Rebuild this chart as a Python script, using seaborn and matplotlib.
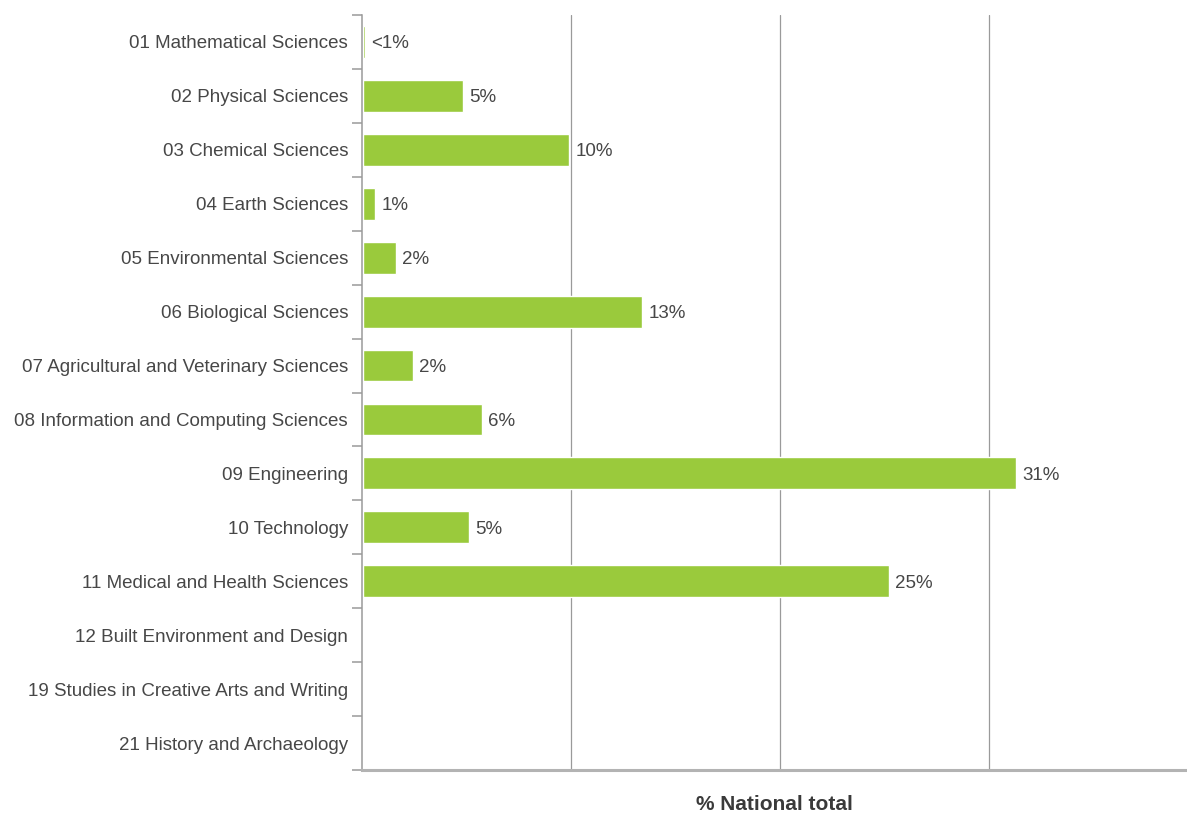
import matplotlib
matplotlib.use("Agg")
import matplotlib.pyplot as plt
import seaborn as sns
import pandas as pd
import numpy as np

categories = [
    "01 Mathematical Sciences",
    "02 Physical Sciences",
    "03 Chemical Sciences",
    "04 Earth Sciences",
    "05 Environmental Sciences",
    "06 Biological Sciences",
    "07 Agricultural and Veterinary Sciences",
    "08 Information and Computing Sciences",
    "09 Engineering",
    "10 Technology",
    "11 Medical and Health Sciences",
    "12 Built Environment and Design",
    "19 Studies in Creative Arts and Writing",
    "21 History and Archaeology",
]
share = [0.1, 4.8, 9.9, 0.6, 1.6, 13.4, 2.4, 5.7, 31.3, 5.1, 25.2, 0.0, 0.0, 0.0]
x_grid = [10, 20, 30]

df = pd.DataFrame({"field": categories, "share": share})

sns.set_theme(style="white")
plt.rcParams["font.family"] = ["Liberation Sans", "DejaVu Sans"]

TEXT = "#474747"
GRID = "#9a9a9a"
GREEN = "#9aca3c"

fig = plt.figure(figsize=(11.87, 8.16), dpi=100)
ax = fig.add_axes([362 / 1187, 1 - 770 / 816, 1 - 362 / 1187, (770 - 15) / 816])

sns.barplot(data=df, y="field", x="share", orient="h", color=GREEN,
            saturation=1, width=0.59, ax=ax, zorder=3)

ax.set_xlim(-0.03, 39.5)
ax.set_ylim(len(categories) - 0.5, -0.5)

for x in x_grid:
    ax.axvline(x, color=GRID, lw=0.9, zorder=1)

ax.set_xticks([])
ax.set_yticks(range(len(categories)))
ax.set_yticklabels(categories, fontsize=13.5, color=TEXT)
for t in ax.get_yticklabels():
    t.set_va("center_baseline")
ax.tick_params(axis="y", which="major", left=False, length=0, pad=10)
ax.set_yticks(np.arange(-0.5, len(categories), 1), minor=True)
ax.tick_params(axis="y", which="minor", left=True, length=7, width=1.1, color=GRID)

for side in ["top", "right"]:
    ax.spines[side].set_visible(False)
ax.spines["left"].set_color(GRID)
ax.spines["left"].set_linewidth(1.1)
ax.spines["left"].set_zorder(5)
ax.spines["bottom"].set_color("#b3b3b3")
ax.spines["bottom"].set_linewidth(2.2)
ax.spines["bottom"].set_zorder(5)

ax.set_ylabel("")
ax.set_xlabel("% National total", fontsize=15, fontweight="bold", color="#3a3a3a",
              labelpad=18)

for i, v in enumerate(share):
    if v <= 0:
        continue
    label = "<1%" if v < 0.5 else f"{int(round(v))}%"
    ax.text(v + 0.3, i, label, va="center_baseline", ha="left", fontsize=13.5,
            color=TEXT, zorder=4)

fig.savefig("out.png", dpi=100)
